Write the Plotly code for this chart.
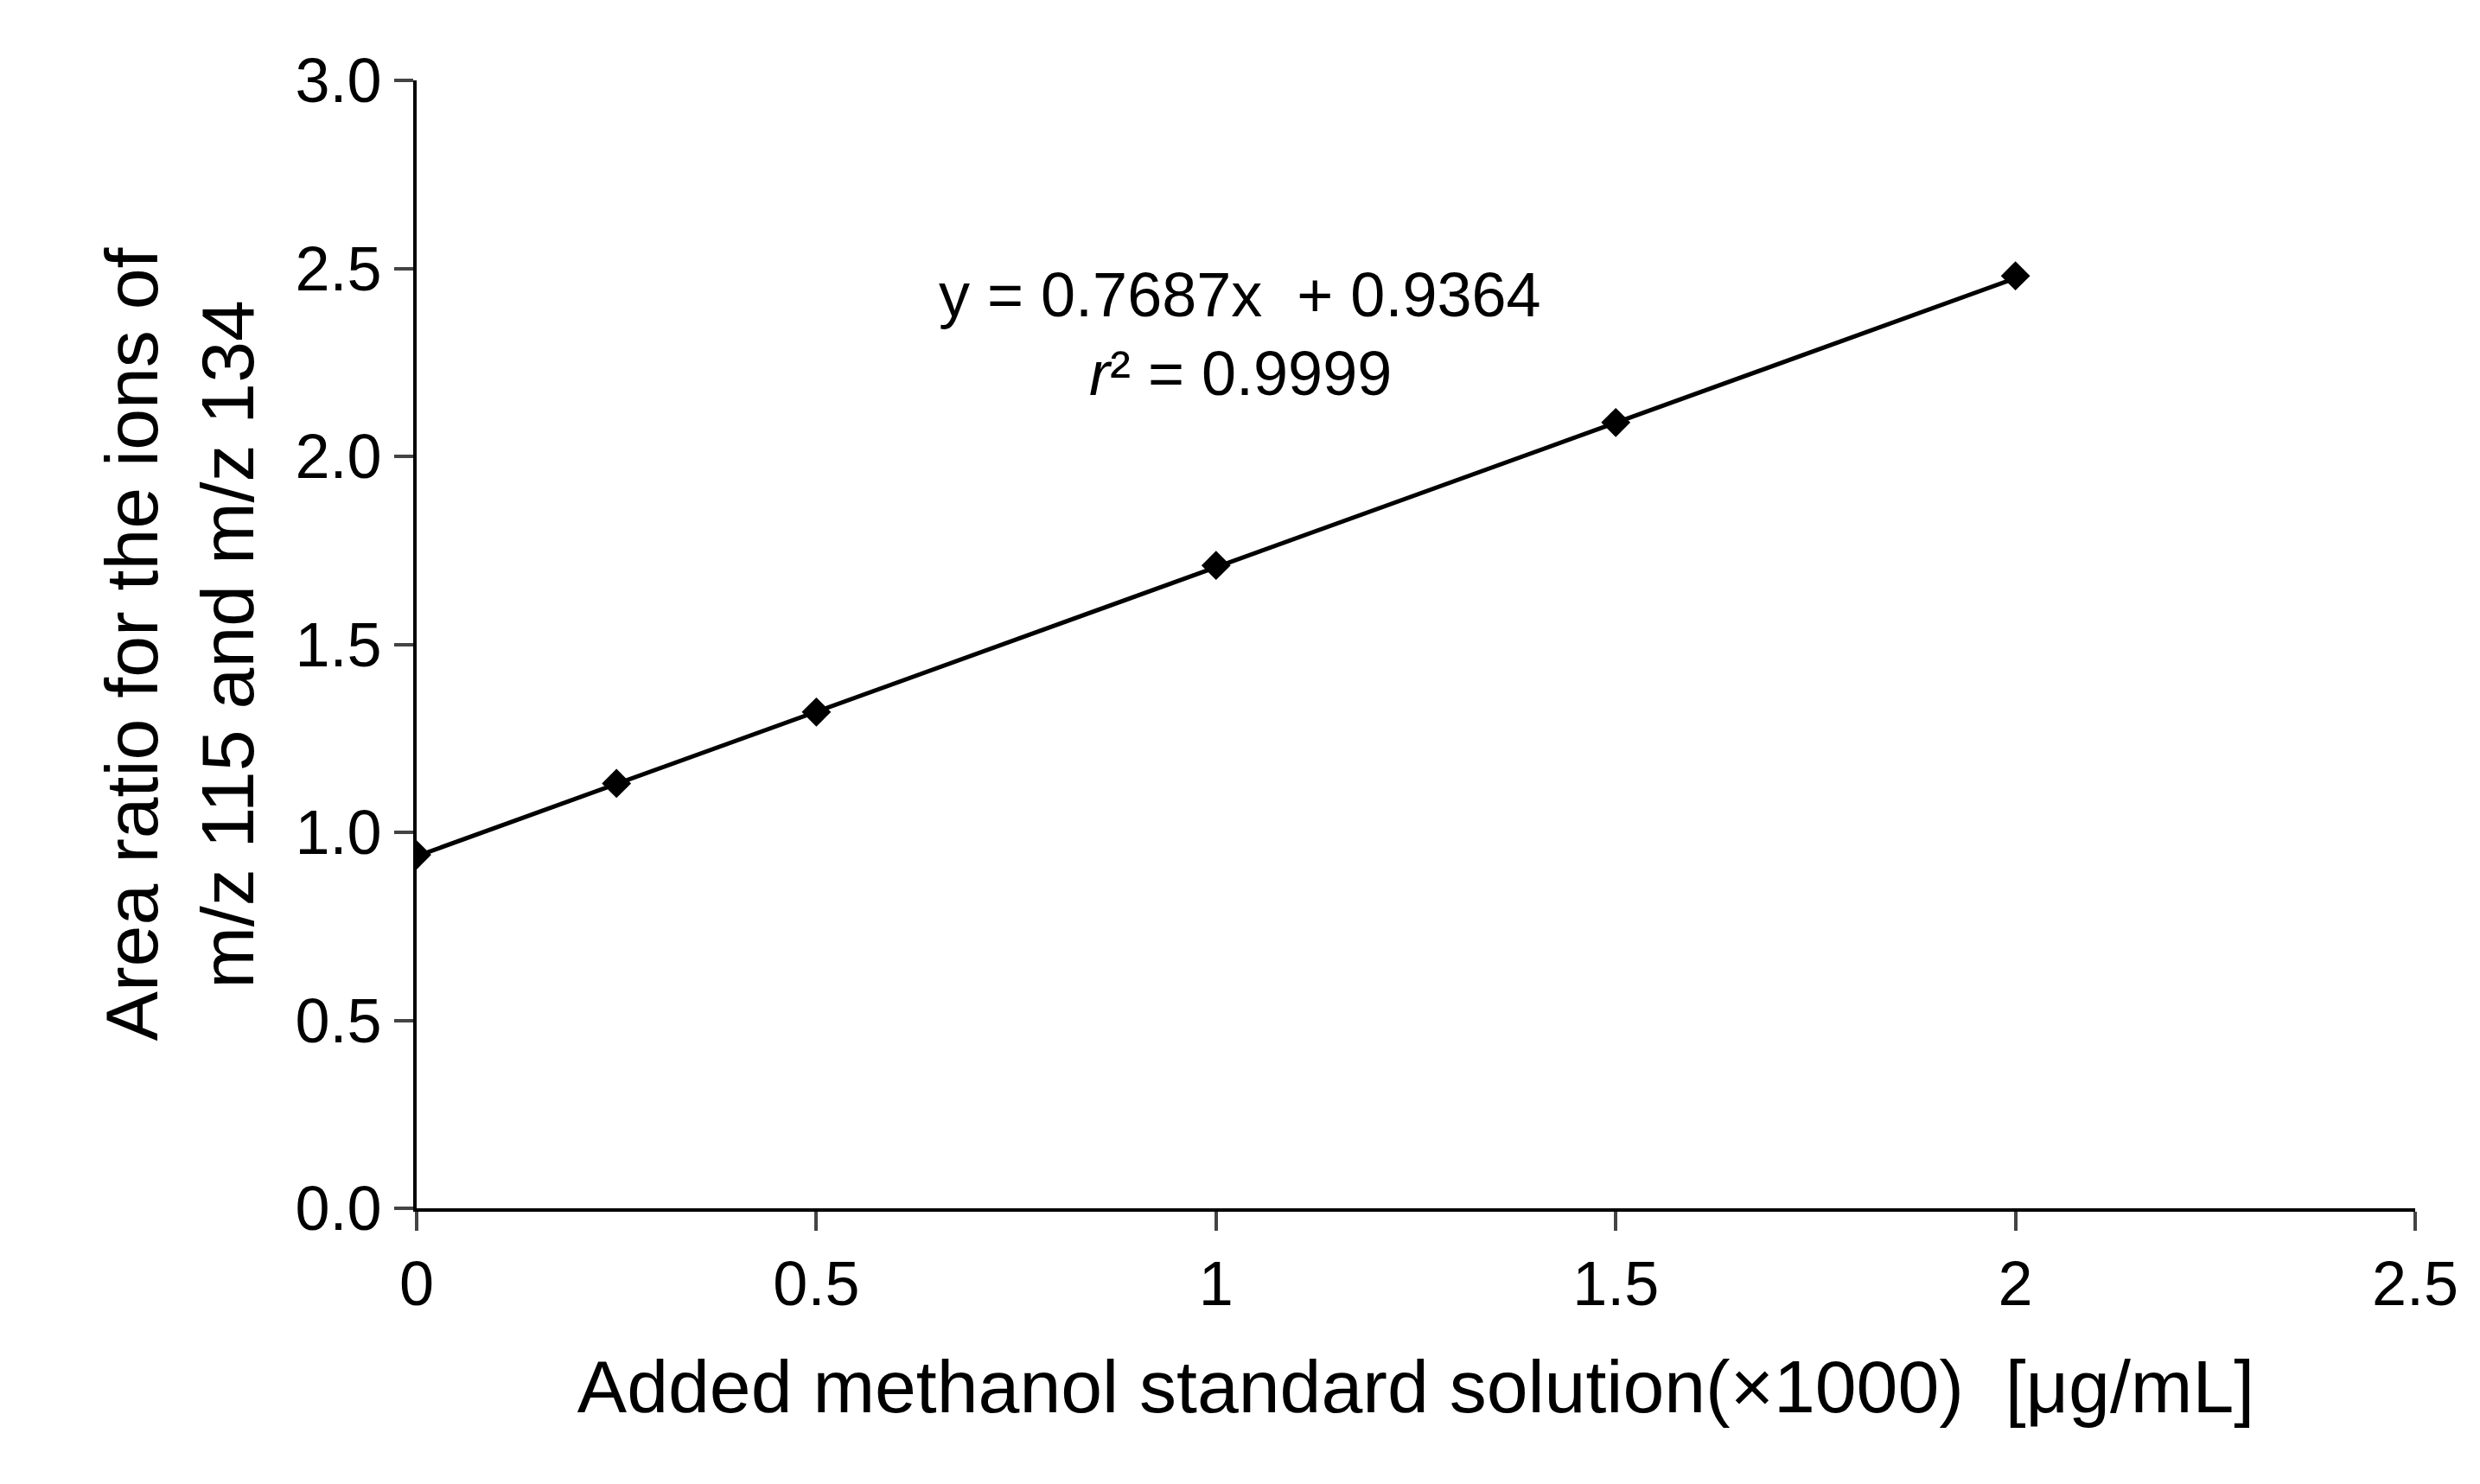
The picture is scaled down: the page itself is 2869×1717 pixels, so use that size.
import plotly.graph_objects as go

# calibration data
added = [0, 0.25, 0.5, 1, 1.5, 2]
ratio = [0.94, 1.13, 1.32, 1.71, 2.09, 2.48]
slope = 0.7687
intercept = 0.9364

fit_x = [0, 2]
fit_y = [slope * v + intercept for v in fit_x]

fig = go.Figure()
fig.add_trace(go.Scatter(x=fit_x, y=fit_y, mode="lines",
                         line=dict(color="black", width=5), showlegend=False))
fig.add_trace(go.Scatter(x=added, y=ratio, mode="markers",
                         marker=dict(symbol="diamond", size=26, color="black"),
                         showlegend=False))

fig.add_annotation(x=1.03, y=2.43, text="y = 0.7687x  + 0.9364", showarrow=False,
                   font=dict(size=72))
fig.add_annotation(x=1.03, y=2.22, text="<i>r</i>² = 0.9999", showarrow=False,
                   font=dict(size=72))

fig.update_layout(
    width=2869, height=1717,
    paper_bgcolor="white", plot_bgcolor="white",
    font=dict(family="Liberation Sans, Arial", size=72, color="black"),
    margin=dict(l=474, r=83, t=85, b=327),
)
fig.update_xaxes(range=[0, 2.5], dtick=0.5, showgrid=False, zeroline=False,
                 showline=True, linecolor="black", linewidth=4,
                 ticks="outside", ticklen=22, tickwidth=4,
                 title=dict(text="Added methanol standard solution(×1000)  [μg/mL]",
                            standoff=50))
fig.update_yaxes(range=[0, 3], dtick=0.5, tickformat=".1f", showgrid=False,
                 zeroline=False, showline=True, linecolor="black", linewidth=4,
                 ticks="outside", ticklen=22, tickwidth=4,
                 title=dict(text="Area ratio for the ions of<br>m/z 115 and m/z 134",
                            standoff=20))

fig.write_html("out.html")
